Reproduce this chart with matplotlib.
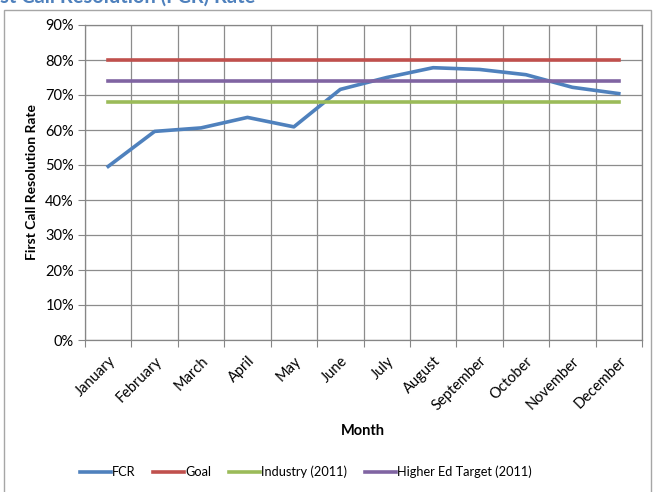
import matplotlib
matplotlib.use("Agg")
import matplotlib.pyplot as plt
from matplotlib.patches import Rectangle
from matplotlib.ticker import PercentFormatter

months = ["January", "February", "March", "April", "May", "June", "July",
          "August", "September", "October", "November", "December"]
fcr = [49.6, 59.6, 60.6, 63.6, 60.9, 71.6, 75.0, 77.8, 77.3, 75.8, 72.2, 70.4]
goal = [80] * 12
industry = [68] * 12
higher_ed = [74] * 12

plt.rcParams["font.family"] = ["Lato", "DejaVu Sans"]

fig = plt.figure(figsize=(6.57, 4.92), dpi=100)
ax = fig.add_axes([85 / 657, 1 - 340 / 492, 557 / 657, 315 / 492])

# chart area border (cut off at the bottom in the original)
fig.patches.append(Rectangle((4 / 657, -0.02), 647 / 657, 1 - 10 / 492 + 0.02,
                             transform=fig.transFigure, fill=False,
                             edgecolor="#a6a6a6", linewidth=1.0))

# heading of the page, mostly cropped away at the top
fig.text(255 / 657, 1 - 3 / 492, "First Call Resolution (FCR) Rate", ha="right", va="baseline",
         fontsize=14.5, fontweight="bold", color="#4f81bd")

x = range(len(months))
ax.plot(x, fcr, color="#4f81bd", lw=2.6, label="FCR", solid_joinstyle="round")
ax.plot(x, goal, color="#c0504d", lw=2.6, label="Goal")
ax.plot(x, industry, color="#9bbb59", lw=2.6, label="Industry (2011)")
ax.plot(x, higher_ed, color="#8064a2", lw=2.6, label="Higher Ed Target (2011)")

ax.set_xlim(-0.5, 11.5)
ax.set_ylim(0, 90)
ax.set_yticks(range(0, 91, 10))
ax.yaxis.set_major_formatter(PercentFormatter(decimals=0))
ax.set_xticks([i - 0.5 for i in range(13)])
ax.set_xticklabels([])
ax.set_xticks(list(x), minor=True)
ax.set_xticklabels(months, minor=True, rotation=45, ha="right", va="top",
                   rotation_mode="anchor", fontsize=10.5)
ax.tick_params(axis="x", which="minor", length=0, pad=10)
ax.tick_params(axis="x", which="major", length=5, color="#868686")
ax.tick_params(axis="y", length=5, color="#868686", labelsize=10.5, pad=3)

ax.grid(True, which="major", color="#8c8c8c", lw=0.9)
ax.set_axisbelow(True)
for s in ax.spines.values():
    s.set_color("#868686")
    s.set_linewidth(0.9)

ax.set_ylabel("First Call Resolution Rate", fontsize=10, fontweight="bold", labelpad=5)
fig.text(363 / 657, 1 - 431 / 492, "Month", ha="center", va="center",
         fontsize=10.5, fontweight="bold")

fig.legend(loc="center", bbox_to_anchor=(306 / 657, 1 - 472 / 492), ncol=4,
           frameon=False, fontsize=9.2, handlelength=2.4, columnspacing=1.4,
           handletextpad=0.1)

fig.savefig("out.png", dpi=100)
